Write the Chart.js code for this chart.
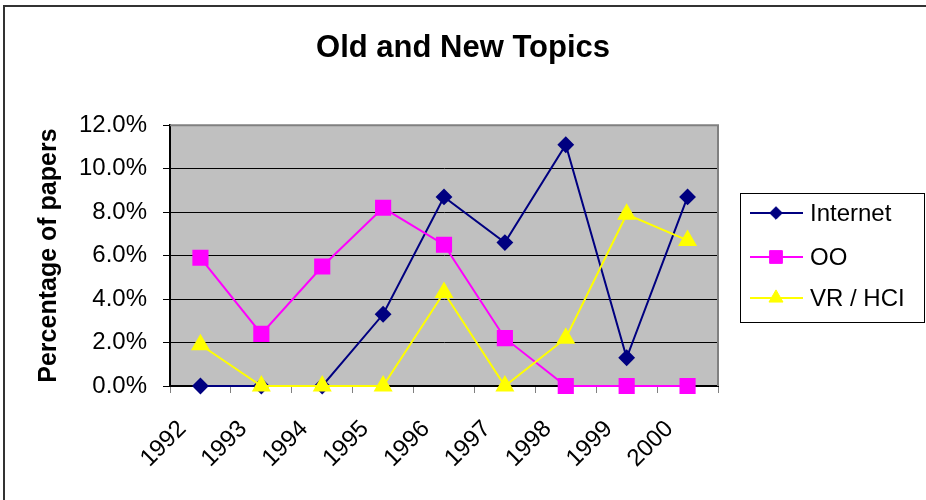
<!DOCTYPE html>
<html>
<head>
<meta charset="utf-8">
<script src="https://cdn.jsdelivr.net/npm/chart.js@4.4.0/dist/chart.umd.min.js"></script>
<style>
  html, body { margin: 0; padding: 0; background: #fff; }
  #wrap { width: 926px; height: 500px; position: relative; }
</style>
</head>
<body>
<div id="wrap"><canvas id="chart" width="926" height="500"></canvas></div>
<script>
const years = ["1992", "1993", "1994", "1995", "1996", "1997", "1998", "1999", "2000"];
const internet = [0, 0, 0, 3.3, 8.7, 6.6, 11.1, 1.3, 8.7];
const oo = [5.9, 2.4, 5.5, 8.2, 6.5, 2.2, 0, 0, 0];
const vrHci = [1.9, 0, 0, 0, 4.3, 0, 2.2, 7.9, 6.7];
const yTicks = [0, 2, 4, 6, 8, 10, 12];

const FONT = "'Liberation Sans', Arial, sans-serif";

// grey plot area, outer frame and the plot border on top/right
const framePlugin = {
    id: "frame",
    beforeDraw(chart) {
        const { ctx, chartArea: a } = chart;
        ctx.save();
        ctx.fillStyle = "#fff";
        ctx.fillRect(0, 0, chart.width, chart.height);
        ctx.fillStyle = "#C0C0C0";
        ctx.fillRect(a.left, a.top, a.right - a.left, a.bottom - a.top);
        ctx.strokeStyle = "#333";
        ctx.lineWidth = 2;
        ctx.beginPath();
        ctx.moveTo(4, chart.height);
        ctx.lineTo(4, 6);
        ctx.lineTo(chart.width, 6);
        ctx.stroke();
        ctx.restore();
    },
    beforeDatasetsDraw(chart) {
        const { ctx, chartArea: a } = chart;
        ctx.save();
        ctx.strokeStyle = "#808080";
        ctx.lineWidth = 2;
        ctx.beginPath();
        ctx.moveTo(a.left, a.top);
        ctx.lineTo(a.right, a.top);
        ctx.lineTo(a.right, a.bottom);
        ctx.stroke();
        ctx.restore();
    }
};

// Excel-style legend: line with marker in the middle, boxed
const boxLegend = {
    id: "boxLegend",
    afterDraw(chart) {
        const { ctx } = chart;
        const box = { x: 740, y: 193, w: 184, h: 129 };
        const rows = [213, 257, 298];
        ctx.save();
        ctx.fillStyle = "#fff";
        ctx.fillRect(box.x, box.y, box.w, box.h);
        ctx.strokeStyle = "#000";
        ctx.lineWidth = 1;
        ctx.strokeRect(box.x + 0.5, box.y + 0.5, box.w, box.h);
        chart.data.datasets.forEach((ds, i) => {
            const y = rows[i];
            ctx.strokeStyle = ds.borderColor;
            ctx.lineWidth = 2;
            ctx.beginPath();
            ctx.moveTo(750, y);
            ctx.lineTo(803, y);
            ctx.stroke();
            ctx.fillStyle = ds.backgroundColor;
            ctx.strokeStyle = ds.backgroundColor;
            ctx.lineWidth = 1;
            Chart.helpers.drawPoint(ctx, {
                pointStyle: ds.pointStyle,
                radius: ds.pointRadius * 0.9,
                rotation: 0,
                borderWidth: 1
            }, 776, y);
            ctx.fillStyle = "#000";
            ctx.font = "24px " + FONT;
            ctx.textBaseline = "middle";
            ctx.textAlign = "left";
            ctx.fillText(ds.label, 810, y + 1);
        });
        ctx.restore();
    }
};

// later series sit on top, as in the original
const mkSet = (label, data, color, style, r, order) => ({
    label: label,
    data: data,
    borderColor: color,
    backgroundColor: color,
    pointBackgroundColor: color,
    pointBorderColor: color,
    pointStyle: style,
    pointRadius: r,
    pointHoverRadius: r,
    borderWidth: 2,
    clip: false,
    order: order,
    tension: 0
});

new Chart(document.getElementById("chart"), {
    type: "line",
    data: {
        labels: years,
        datasets: [
            mkSet("Internet", internet, "#000080", "rectRot", 7, 2),
            mkSet("OO", oo, "#FF00FF", "rect", 10, 1),
            mkSet("VR / HCI", vrHci, "#FFFF00", "triangle", 9, 0)
        ]
    },
    options: {
        responsive: false,
        animation: false,
        events: [],
        layout: { padding: { left: 0, right: 0, top: 0, bottom: 0 } },
        plugins: {
            legend: { display: false },
            tooltip: { enabled: false },
            title: {
                display: true,
                text: "Old and New Topics",
                color: "#000",
                font: { family: FONT, size: 31, weight: "bold" },
                padding: { top: 30, bottom: 58 }
            }
        },
        scales: {
            x: {
                offset: true,
                grid: { offset: true, drawOnChartArea: false, color: "#808080", tickLength: 7 },
                border: { color: "#000", width: 2 },
                ticks: {
                    color: "#000",
                    font: { family: FONT, size: 24 },
                    minRotation: 45,
                    maxRotation: 45,
                    padding: 22,
                    labelOffset: -18
                },
                afterFit(s) { s.height = 114; }
            },
            y: {
                min: 0,
                max: 12,
                afterBuildTicks(s) { s.ticks = yTicks.map(v => ({ value: v })); },
                grid: { color: "#000", lineWidth: 1, tickLength: 7 },
                border: { color: "#000", width: 2 },
                ticks: {
                    color: "#000",
                    font: { family: FONT, size: 24 },
                    padding: 16,
                    callback: v => v.toFixed(1) + "%"
                },
                title: {
                    display: true,
                    text: "Percentage of papers",
                    color: "#000",
                    font: { family: FONT, size: 25, weight: "bold" },
                    padding: { top: 34, bottom: 0 }
                },
                afterFit(s) { s.width = 170; }
            },
            yR: {
                position: "right",
                display: true,
                grid: { display: false },
                border: { display: false },
                ticks: { display: false },
                afterFit(s) { s.width = 208; }
            }
        }
    },
    plugins: [framePlugin, boxLegend]
});
</script>
</body>
</html>
